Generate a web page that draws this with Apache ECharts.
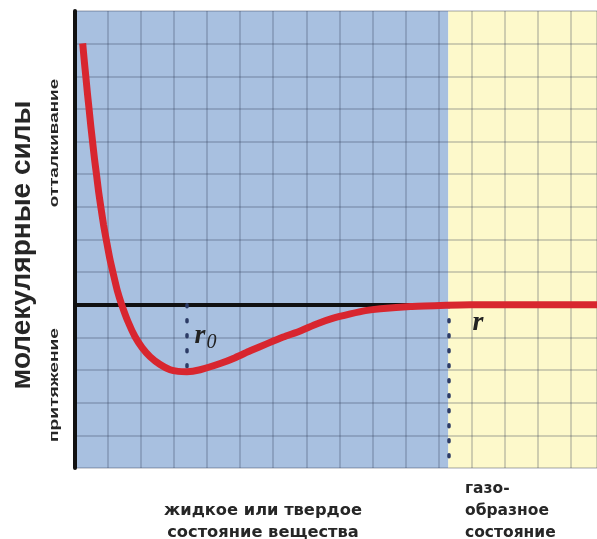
<!DOCTYPE html>
<html>
<head>
<meta charset="utf-8">
<script src="https://cdn.jsdelivr.net/npm/echarts@6/dist/echarts.min.js"></script>
<style>
html,body{margin:0;padding:0;background:#fff;}
#chart{width:597px;height:539px;}
</style>
</head>
<body>
<div id="chart"></div>
<script>
// distance r (grid units) and molecular force (grid units)
const rValues = [0.233, 0.279, 0.327, 0.376, 0.427, 0.479, 0.533, 0.591, 0.652, 0.715, 0.785, 0.864, 0.952, 1.048, 1.158, 1.282, 1.415, 1.606, 1.818, 2.030, 2.273, 2.576, 2.879, 3.121, 3.385, 3.788, 4.394, 4.848, 5.303, 5.818, 6.303, 6.818, 7.333, 7.818, 8.333, 8.788, 9.242, 10.15, 11.06, 11.97, 15.8];
const forceValues = [8.01, 7.49, 7.00, 6.48, 5.99, 5.47, 4.98, 4.46, 3.98, 3.46, 2.97, 2.45, 1.96, 1.44, 0.95, 0.43, 0, -0.52, -0.98, -1.31, -1.59, -1.83, -1.99, -2.04, -2.05, -1.99, -1.80, -1.62, -1.41, -1.19, -0.99, -0.80, -0.58, -0.41, -0.28, -0.18, -0.12, -0.05, -0.02, 0, 0];
const r0 = 3.385;
const rMin = -2.05;
const phaseBoundary = 11.3;
const xRange = [0, 15.8];
const yRange = [-5, 9];
const yTitle = 'молекулярные силы';
const repulsionLabel = 'отталкивание';
const attractionLabel = 'притяжение';
const liquidLabel = ['жидкое или твердое', 'состояние вещества'];
const gasLabel = ['газо-', 'образное', 'состояние'];

const chart = echarts.init(document.getElementById('chart'));
const curve = rValues.map((r, i) => [r, forceValues[i]]);
const textColor = '#262626';
const gridLine = {show: true, lineStyle: {color: 'rgba(45,55,80,0.30)', width: 1.5}};
const smallFont = 'bold 15.5px "DejaVu Sans"';

chart.setOption({
  animation: false,
  backgroundColor: '#ffffff',
  grid: {left: 75, right: 0, top: 11, bottom: 71, containLabel: false},
  xAxis: {
    type: 'value', min: xRange[0], max: xRange[1], interval: 1, z: 3,
    axisLine: {show: true, onZero: true, lineStyle: {color: '#111', width: 4}},
    axisTick: {show: false}, axisLabel: {show: false},
    splitLine: gridLine
  },
  yAxis: {
    type: 'value', min: yRange[0], max: yRange[1], interval: 1, z: 3,
    axisLine: {show: true, onZero: false, lineStyle: {color: '#111', width: 4}},
    axisTick: {show: false}, axisLabel: {show: false},
    splitLine: gridLine
  },
  series: [
    {
      type: 'line', z: 1, data: [], silent: true,
      markArea: {
        silent: true,
        data: [
          [{coord: [xRange[0], yRange[0]], itemStyle: {color: '#a8c0e0'}}, {coord: [phaseBoundary, yRange[1]]}],
          [{coord: [phaseBoundary, yRange[0]], itemStyle: {color: '#fdf9cb'}}, {coord: [xRange[1], yRange[1]]}]
        ]
      }
    },
    {
      type: 'line', z: 10, data: curve, smooth: 0.2, symbol: 'none',
      lineStyle: {color: '#d8262f', width: 7, cap: 'butt', join: 'round'},
      markLine: {
        silent: true, symbol: 'none', label: {show: false},
        lineStyle: {color: '#2c3b66', width: 3.5, type: [2, 13], cap: 'round'},
        data: [
          [{coord: [r0, 0]}, {coord: [r0, rMin]}],
          [{coord: [phaseBoundary, 0]}, {coord: [phaseBoundary, yRange[0]]}]
        ]
      },
      markPoint: {
        silent: true, symbol: 'circle', symbolSize: 0,
        label: {
          show: true, position: 'inside',
          rich: {
            r: {fontFamily: 'Liberation Serif', fontStyle: 'italic', fontWeight: 'bold', fontSize: 28, color: '#222'},
            s: {fontFamily: 'Liberation Serif', fontStyle: 'italic', fontSize: 20, color: '#222', padding: [14, 0, 0, 1]}
          }
        },
        data: [
          {coord: [3.95, -0.95], label: {formatter: '{r|r}{s|0}'}},
          {coord: [12.2, -0.55], label: {formatter: '{r|r}'}}
        ]
      }
    }
  ],
  graphic: [
    {type: 'text', x: 22, y: 245, rotation: Math.PI / 2,
     style: {text: yTitle, font: 'bold 28px "Liberation Sans"', fill: textColor, textAlign: 'center', textVerticalAlign: 'middle'}},
    {type: 'text', x: 54, y: 143, rotation: Math.PI / 2, scaleX: 1.45,
     style: {text: repulsionLabel, font: 'bold 13px "Liberation Sans"', fill: textColor, textAlign: 'center', textVerticalAlign: 'middle'}},
    {type: 'text', x: 54, y: 385, rotation: Math.PI / 2, scaleX: 1.48,
     style: {text: attractionLabel, font: 'bold 13px "Liberation Sans"', fill: textColor, textAlign: 'center', textVerticalAlign: 'middle'}},
    {type: 'text', x: 263, y: 511, scaleX: 1.05,
     style: {text: liquidLabel[0], font: smallFont, fill: textColor, textAlign: 'center', textVerticalAlign: 'middle'}},
    {type: 'text', x: 263, y: 533, scaleX: 1.05,
     style: {text: liquidLabel[1], font: smallFont, fill: textColor, textAlign: 'center', textVerticalAlign: 'middle'}},
    {type: 'text', x: 465, y: 489,
     style: {text: gasLabel[0], font: smallFont, fill: textColor, textAlign: 'left', textVerticalAlign: 'middle'}},
    {type: 'text', x: 465, y: 511,
     style: {text: gasLabel[1], font: smallFont, fill: textColor, textAlign: 'left', textVerticalAlign: 'middle'}},
    {type: 'text', x: 465, y: 533,
     style: {text: gasLabel[2], font: smallFont, fill: textColor, textAlign: 'left', textVerticalAlign: 'middle'}}
  ]
});
</script>
</body>
</html>
